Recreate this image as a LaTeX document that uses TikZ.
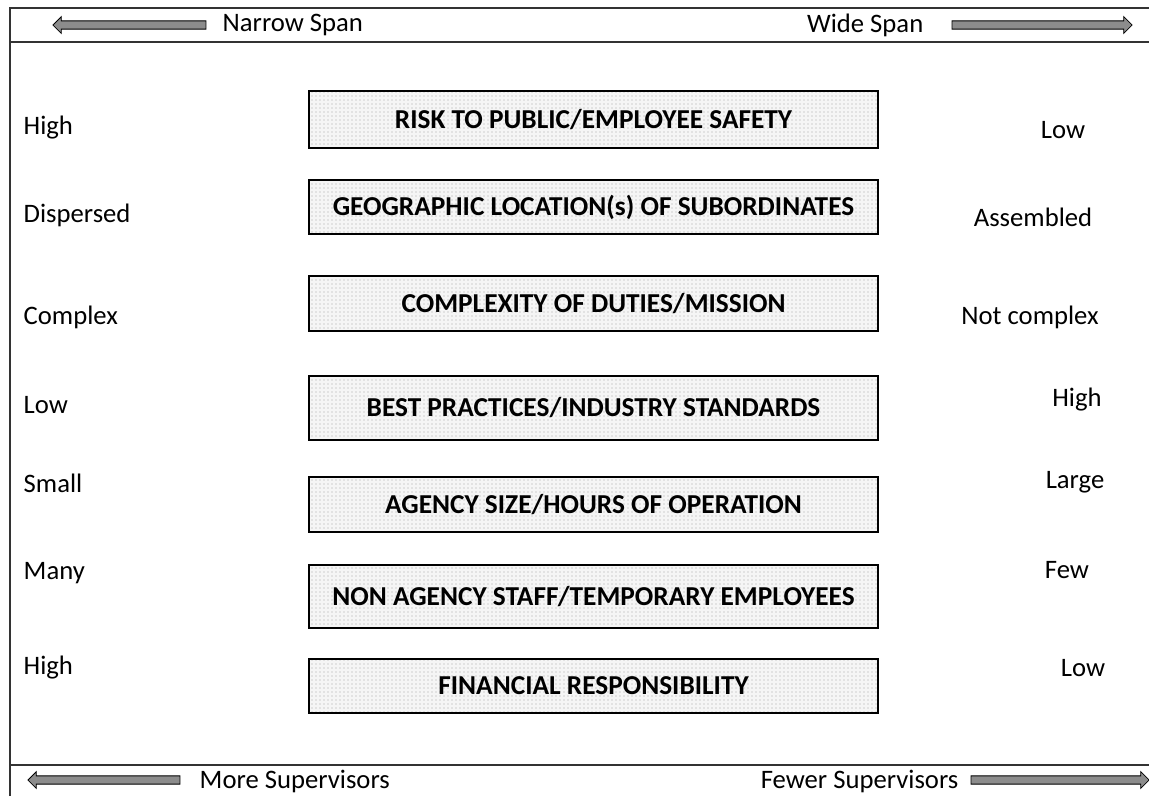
\documentclass[tikz,border=0pt]{standalone}
\usepackage{fontspec}
\setmainfont{Carlito}
\usetikzlibrary{shapes.arrows, patterns, positioning}

\tikzset{
    factor/.style={draw, line width=1pt, preaction={fill=gray!8}, pattern=dots, pattern color=gray!70,
        minimum width=426.75pt, inner sep=0pt, font=\fontsize{20.5}{24}\selectfont\bfseries},
    fatarrow/.style={single arrow, draw, line width=0.6pt, fill=black!45, inner sep=2.8pt,
        single arrow head extend=3.2pt},
    frame/.style={draw=black!80, line width=1pt}
}

\begin{document}
\begin{tikzpicture}[x=0.75pt, y=-0.75pt, font=\fontsize{20}{24}\selectfont]
    \fill[white] (0,0) rectangle (1149,796);
    \useasboundingbox (0,0) rectangle (1149,796);

    % frame and the two bands
    \draw[frame] (10,796) -- (10,8) -- (1149,8);
    \draw[frame] (10,42) -- (1149,42);
    \draw[frame] (10,765) -- (1149,765);

    % top band
    \node[fatarrow, minimum height=114.75pt, shape border rotate=180] (narrowarr) at (131.5,25) {};
    \node[anchor=west] (narrow) at (218,25) {Narrow Span};
    \node[anchor=east] (wide) at (928,25) {Wide Span};
    \node[fatarrow, minimum height=135pt] (widearr) at (1040,25) {};

    % bottom band
    \node[fatarrow, minimum height=114pt, shape border rotate=180] (morearr) at (106,780) {};
    \node[anchor=west] (more) at (195,781) {More Supervisors};
    \node[anchor=east] (fewer) at (963,781) {Fewer Supervisors};
    \node[fatarrow, minimum height=133.5pt] (fewerarr) at (1058,780) {};

    % factors
    \node[factor, minimum height=42.75pt] (risk) at (593.5,119.5) {RISK TO PUBLIC/EMPLOYEE SAFETY};
    \node[factor, minimum height=40.5pt] (geo) at (593.5,207) {GEOGRAPHIC LOCATION(s) OF SUBORDINATES};
    \node[factor, minimum height=41.25pt] (duties) at (593.5,303.5) {COMPLEXITY OF DUTIES/MISSION};
    \node[factor, minimum height=48pt] (best) at (593.5,408) {BEST PRACTICES/INDUSTRY STANDARDS};
    \node[factor, minimum height=41.25pt] (size) at (593.5,504.5) {AGENCY SIZE/HOURS OF OPERATION};
    \node[factor, minimum height=47.25pt] (staff) at (593.5,596.5) {NON AGENCY STAFF/TEMPORARY EMPLOYEES};
    \node[factor, minimum height=40.5pt] (money) at (593.5,686) {FINANCIAL RESPONSIBILITY};

    % narrow end
    \node[anchor=west] (riskL) at (19,128) {High};
    \node[anchor=west] (geoL) at (19,215) {Dispersed};
    \node[anchor=west] (dutiesL) at (19,317) {Complex};
    \node[anchor=west] (bestL) at (19,405) {Low};
    \node[anchor=west] (sizeL) at (19,483) {Small};
    \node[anchor=west] (staffL) at (19,573) {Many};
    \node[anchor=west] (moneyL) at (19,668) {High};

    % wide end
    \node (riskR) at (1063,130) {Low};
    \node (geoR) at (1033,217) {Assembled};
    \node (dutiesR) at (1030,317) {Not complex};
    \node (bestR) at (1077,400) {High};
    \node (sizeR) at (1075,482) {Large};
    \node (staffR) at (1067,570) {Few};
    \node (moneyR) at (1083,668) {Low};
\end{tikzpicture}
\end{document}
